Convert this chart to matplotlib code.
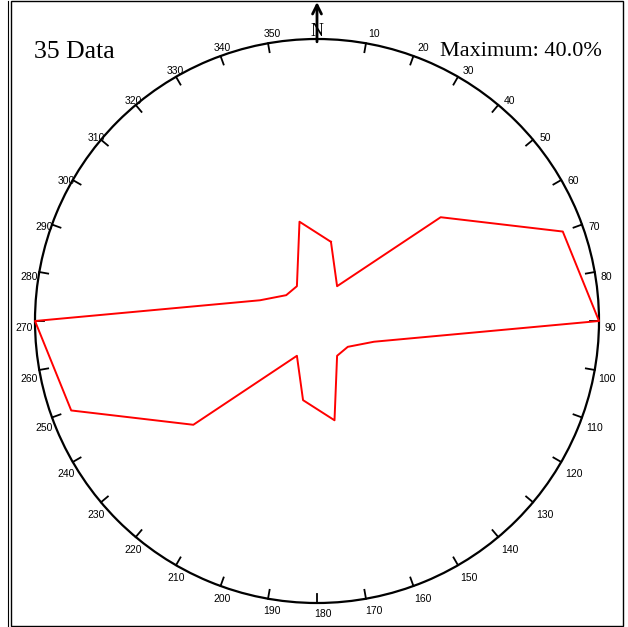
"""
Rose diagram (bidirectional, 20 deg bins) - recreated with matplotlib.
"""
import matplotlib
matplotlib.use("Agg")
import matplotlib.pyplot as plt
from matplotlib.patches import Rectangle
from matplotlib.lines import Line2D
from matplotlib.transforms import offset_copy
import numpy as np

# ── Data ──────────────────────────────────────────────
N_DATA = 35
MAX_PCT = 40.0
BIN_CENTERS = [10, 30, 50, 70, 90, 110, 130, 150, 170]          # degrees, 0..180
BIN_PCT = [11.4, 5.7, 22.9, 37.1, 40.0, 8.6, 5.7, 5.7, 14.3]    # percent per bin
TICK_ANGLES = list(range(0, 360, 10))
TICK_LABELS = [str(a) for a in TICK_ANGLES]

W, H = 628, 627
fig = plt.figure(figsize=(W / 100, H / 100), dpi=100)

# polar axes placed in pixel coordinates (centre 317,321, radius 282)
cx, cy, rad = 317, 321, 282
ax = fig.add_axes([(cx - rad) / W, (H - cy - rad) / H, 2 * rad / W, 2 * rad / H],
                  projection="polar")
ax.set_theta_zero_location("N")
ax.set_theta_direction(-1)
ax.set_ylim(0, MAX_PCT)
ax.set_xticks([])
ax.set_yticks([])
ax.grid(False)
ax.spines["polar"].set_linewidth(1.6)
ax.spines["polar"].set_color("black")

# bidirectional: mirror bins by 180 degrees and close the polygon
angles = BIN_CENTERS + [a + 180 for a in BIN_CENTERS]
pcts = BIN_PCT + BIN_PCT
theta = np.deg2rad(angles + [angles[0]])
r = pcts + [pcts[0]]
ax.plot(theta, r, color="red", linewidth=1.4, clip_on=False, zorder=3)

# ticks on the circle, pointing inward, plus labels outside
tick_len = MAX_PCT * 9 / rad
lab_r = MAX_PCT * 293 / rad
for a, lab in zip(TICK_ANGLES, TICK_LABELS):
    if a == 0:
        continue
    t = np.deg2rad(a)
    ax.plot([t, t], [MAX_PCT - tick_len, MAX_PCT], color="black",
            linewidth=1.3, clip_on=False)
    # labels sit a little right (top/bottom) and a little low (sides)
    tr = offset_copy(ax.transData, fig=fig, units="dots",
                     x=6 * abs(np.cos(t)), y=-7 * abs(np.sin(t)))
    ax.text(t, lab_r, lab, fontsize=7.5, family="Liberation Sans",
            ha="center", va="center", clip_on=False, transform=tr)

# north arrow
ax.annotate("", xy=(0, MAX_PCT * (cy - 2) / rad), xytext=(0, MAX_PCT * 0.99),
            arrowprops=dict(arrowstyle="->", color="black", lw=2.0,
                            mutation_scale=16, shrinkA=0, shrinkB=0),
            annotation_clip=False)
ax.text(0, MAX_PCT * (cy - 32) / rad, "N", fontsize=13, family="Liberation Serif",
        ha="center", va="center", clip_on=False)

# header texts
fig.text(34 / W, 1 - 52 / H, f"{N_DATA} Data", fontsize=18.5,
         family="Liberation Serif", ha="left", va="center")
fig.text(602 / W, 1 - 51 / H, f"Maximum: {MAX_PCT:.1f}%", fontsize=16,
         family="Liberation Serif", ha="right", va="center")

# frame around the picture
fig.add_artist(Rectangle((11 / W, 1 - 626 / H), (623 - 11) / W, (626 - 1) / H,
                         transform=fig.transFigure, fill=False,
                         edgecolor="black", linewidth=1.0))
fig.add_artist(Line2D([8 / W, 8 / W], [1 - 626 / H, 1 - 1 / H],
                      transform=fig.transFigure, color="black", linewidth=0.8))

fig.savefig("out.png", dpi=100)
